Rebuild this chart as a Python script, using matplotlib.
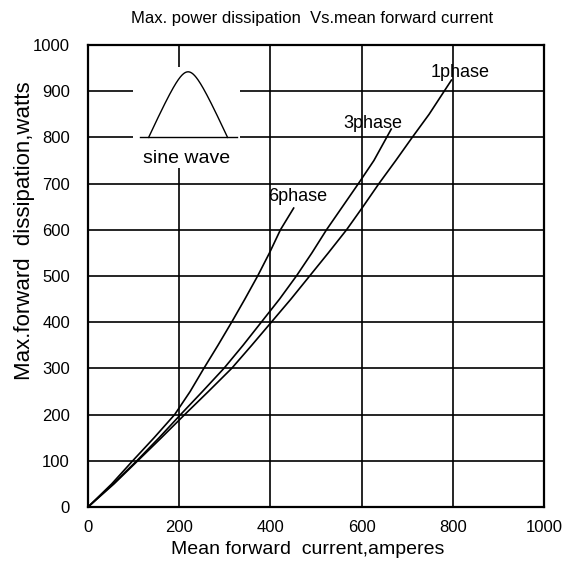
import numpy as np
import matplotlib
matplotlib.use("Agg")
import matplotlib.pyplot as plt
from matplotlib.patches import Rectangle

plt.rcParams['font.family'] = ['Liberation Sans', 'DejaVu Sans']

# ---- data ----
x_1phase = [0, 57, 109, 161, 212, 264, 315, 359, 402, 445, 486, 527, 567, 603, 638, 675, 711, 748, 797]
y_1phase = [0, 50, 100, 150, 200, 250, 300, 350, 400, 450, 500, 550, 600, 650, 700, 750, 800, 850, 924]

x_3phase = [0, 55, 107, 156, 203, 251, 298, 340, 380, 420, 457, 491, 523, 558, 593, 627, 665]
y_3phase = [0, 50, 100, 150, 200, 250, 300, 350, 400, 450, 500, 550, 600, 650, 700, 750, 818]

x_6phase = [0, 52, 98, 145, 190, 224, 254, 285, 315, 344, 372, 398, 422, 451]
y_6phase = [0, 50, 100, 150, 200, 250, 300, 350, 400, 450, 500, 550, 600, 647]

curve_labels = ["1phase", "3phase", "6phase"]
label_pos = [(816, 941), (625, 831), (460, 671)]

x_ticks = [0, 200, 400, 600, 800, 1000]
y_ticks = [0, 100, 200, 300, 400, 500, 600, 700, 800, 900, 1000]

title = "Max. power dissipation  Vs.mean forward current"
xlabel = "Mean forward  current,amperes"
ylabel = "Max.forward  dissipation,watts"

# ---- figure ----
fig = plt.figure(figsize=(5.65, 5.68), dpi=100)
ax = fig.add_axes([88/565, 61/568, 456/565, 462/568])

ax.set_xlim(0, 1000)
ax.set_ylim(0, 1000)
ax.set_xticks(x_ticks)
ax.set_yticks(y_ticks)
ax.tick_params(length=0, labelsize=12)
ax.tick_params(axis='y', pad=13)
ax.tick_params(axis='x', pad=9)
ax.grid(True, color='black', linewidth=1.2)
ax.set_axisbelow(True)
for s in ax.spines.values():
    s.set_linewidth(1.6)
    s.set_color('black')

for xs, ys in [(x_1phase, y_1phase), (x_3phase, y_3phase), (x_6phase, y_6phase)]:
    ax.plot(xs, ys, color='black', linewidth=1.2, zorder=3,
            solid_joinstyle='round')

for lab, (lx, ly) in zip(curve_labels, label_pos):
    ax.text(lx, ly, lab, ha='center', va='center', fontsize=13,
            zorder=4, color='black')

# inset sine-wave icon
ax.add_patch(Rectangle((98, 734), 235, 218, facecolor='white',
                       edgecolor='none', zorder=2))
ax.plot([114, 326], [800, 800], color='black', linewidth=1.0, zorder=3)
t = np.linspace(0, 1, 200)
u = 2 * t - 1
r = 0.3
shape = (np.sqrt(1 + r**2) - np.sqrt(u**2 + r**2)) / (np.sqrt(1 + r**2) - r)
wx = 133 + (306 - 133) * t
wy = 800 + 142 * shape
ax.plot(wx, wy, color='black', linewidth=1.0, zorder=3)
ax.text(217, 755, "sine wave", ha='center', va='center', fontsize=14, zorder=4)

ax.set_xlabel(xlabel, fontsize=14)
ax.xaxis.set_label_coords((308 - 88) / 456, -(550 - 507) / 462)
ax.xaxis.label.set_va('center')
ax.set_ylabel(ylabel, fontsize=16)
ax.yaxis.set_label_coords(-(88 - 25) / 456, (507 - 231) / 462)
ax.yaxis.label.set_va('center')

fig.text(312/565, 1 - 18/568, title, ha='center', va='center',
         fontsize=12, family=['Liberation Sans Narrow', 'Liberation Sans', 'DejaVu Sans'])

fig.savefig("out.png", dpi=100)
